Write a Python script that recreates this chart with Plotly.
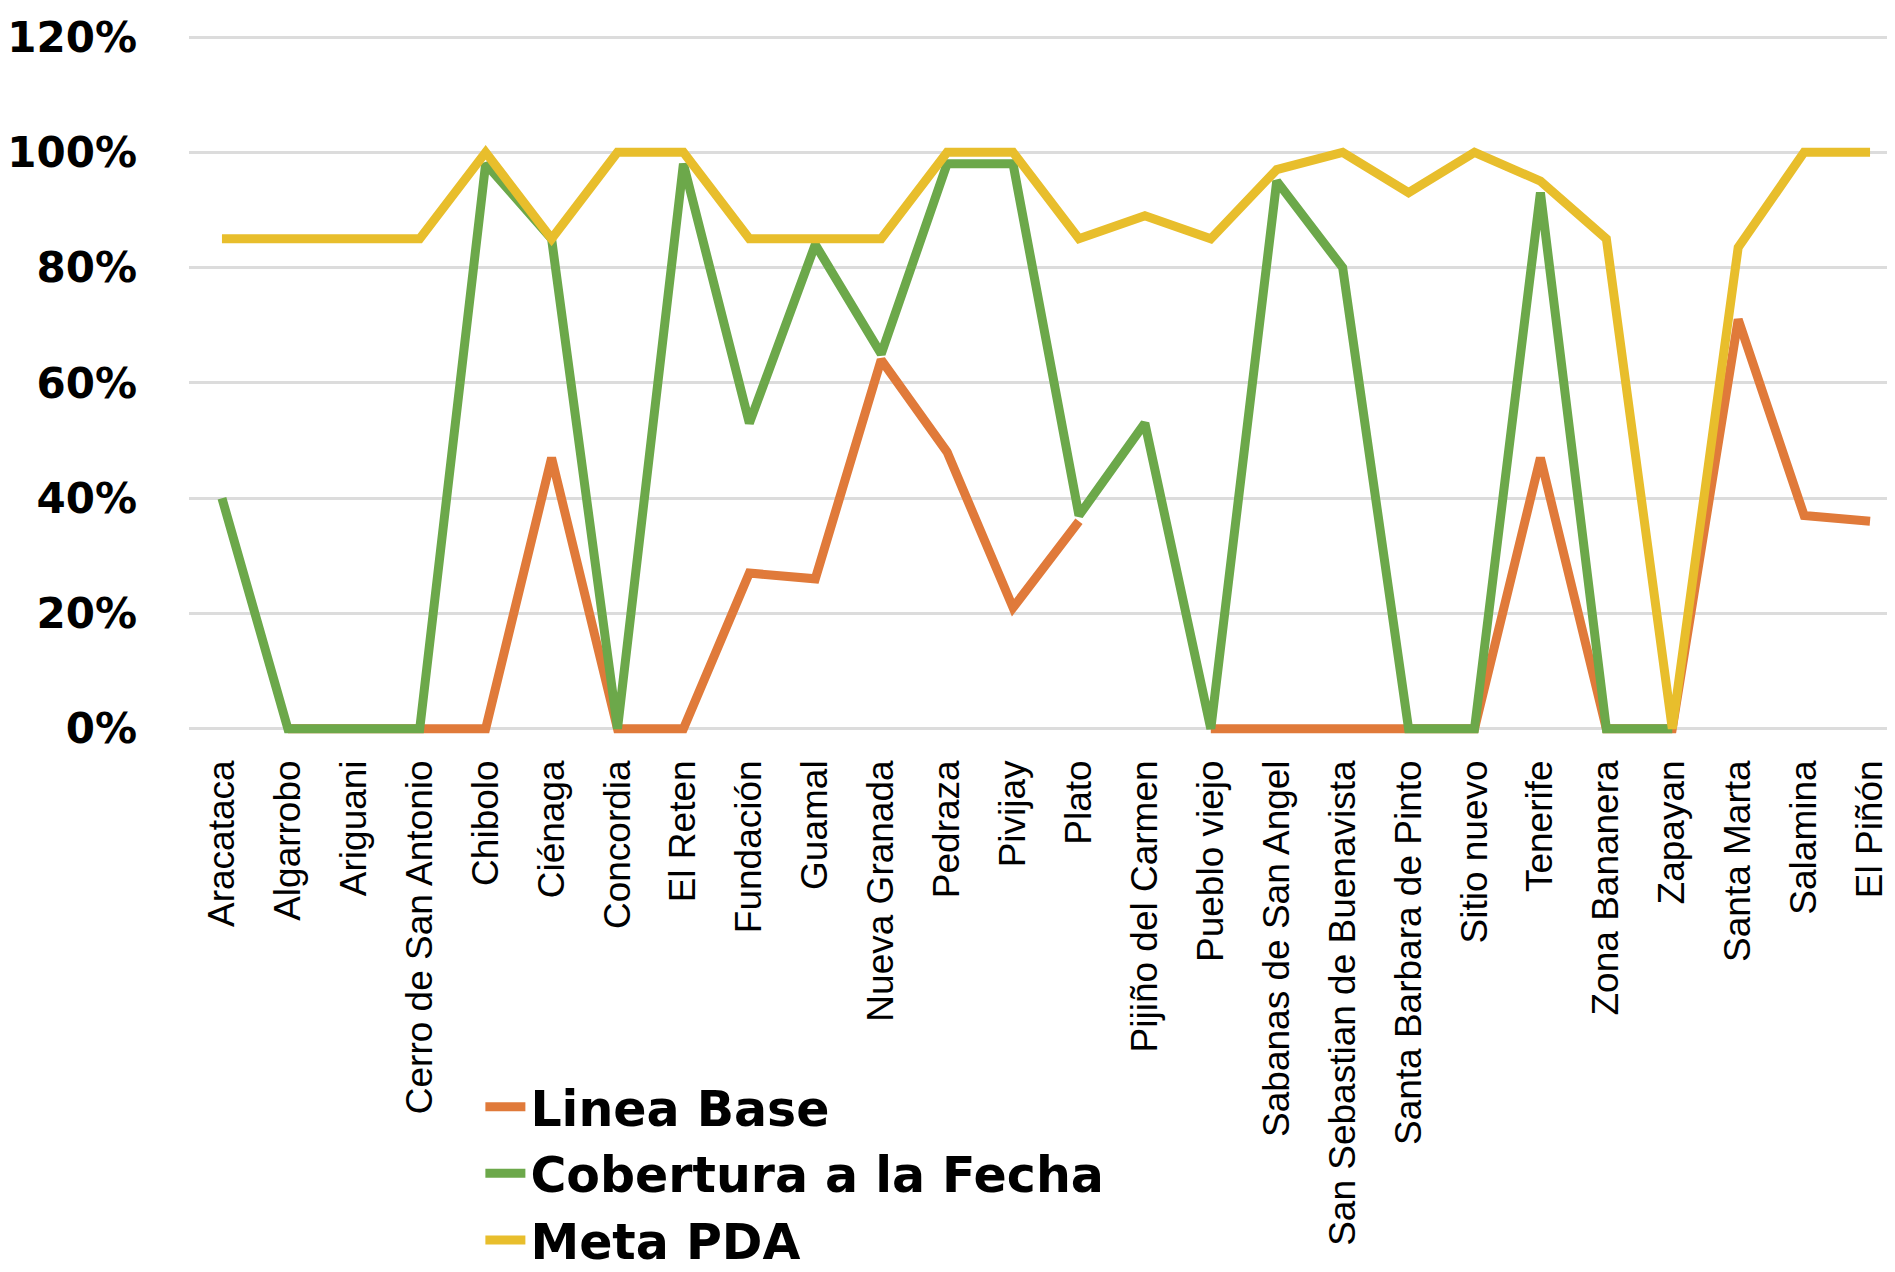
import plotly.graph_objects as go

categories = ["Aracataca", "Algarrobo", "Ariguani", "Cerro de San Antonio", "Chibolo",
              "Ciénaga", "Concordia", "El Reten", "Fundación", "Guamal", "Nueva Granada",
              "Pedraza", "Pivijay", "Plato", "Pijiño del Carmen", "Pueblo viejo",
              "Sabanas de San Angel", "San Sebastian de Buenavista", "Santa Barbara de Pinto",
              "Sitio nuevo", "Tenerife", "Zona Bananera", "Zapayan", "Santa Marta",
              "Salamina", "El Piñón"]

linea_base = [None, 0, 0, 0, 0, 0.47, 0, 0, 0.27, 0.26, 0.64, 0.48, 0.21, 0.36,
              None, 0, 0, 0, 0, 0, 0.47, 0, 0, 0.71, 0.37, 0.36]
cobertura = [0.40, 0, 0, 0, 0.98, 0.85, 0, 0.98, 0.53, 0.84, 0.65, 0.98, 0.98, 0.37,
             0.53, 0, 0.95, 0.80, 0, 0, 0.93, 0, 0, None, None, None]
meta_pda = [0.85, 0.85, 0.85, 0.85, 1.00, 0.85, 1.00, 1.00, 0.85, 0.85, 0.85, 1.00, 1.00,
            0.85, 0.89, 0.85, 0.97, 1.00, 0.93, 1.00, 0.95, 0.85, 0.0, 0.835, 1.00, 1.00]

y_ticks = [0, 0.2, 0.4, 0.6, 0.8, 1.0, 1.2]
y_tick_text = ["0%", "20%", "40%", "60%", "80%", "100%", "120%"]

series = [
    ("Linea Base", linea_base, "#E07A3A"),
    ("Cobertura a la Fecha", cobertura, "#6CA84A"),
    ("Meta PDA", meta_pda, "#E8BE2C"),
]

fig = go.Figure()
for name, vals, color in series:
    fig.add_trace(go.Scatter(x=categories, y=vals, name=name, mode="lines",
                             line=dict(color=color, width=9), connectgaps=False))

fig.update_layout(
    width=1895, height=1272,
    paper_bgcolor="white", plot_bgcolor="white",
    margin=dict(l=181, r=0, t=25, b=526),
    showlegend=True,
    legend=dict(x=0.170, xanchor="left", y=-0.452, yanchor="top",
                font=dict(family="DejaVu Sans", size=49, color="black", weight="bold"),
                bgcolor="rgba(0,0,0,0)", tracegroupgap=0, itemwidth=40),
    font=dict(family="Liberation Sans", color="black"),
)
fig.update_xaxes(type="category", range=[-0.5, 25.5], tickangle=-90,
                 tickfont=dict(family="Liberation Sans", size=37, color="black"),
                 showgrid=False, showline=False, ticks="", ticklabelstandoff=6,
                 automargin=False)
fig.update_yaxes(range=[-0.03, 1.207], tickvals=y_ticks, ticktext=y_tick_text,
                 tickfont=dict(family="DejaVu Sans", size=42, color="black", weight="bold"),
                 showgrid=True, gridcolor="#dcdcdc", gridwidth=3, zeroline=False,
                 showline=False, ticks="", ticklabelstandoff=51, automargin=False)

fig.write_html("out.html")
